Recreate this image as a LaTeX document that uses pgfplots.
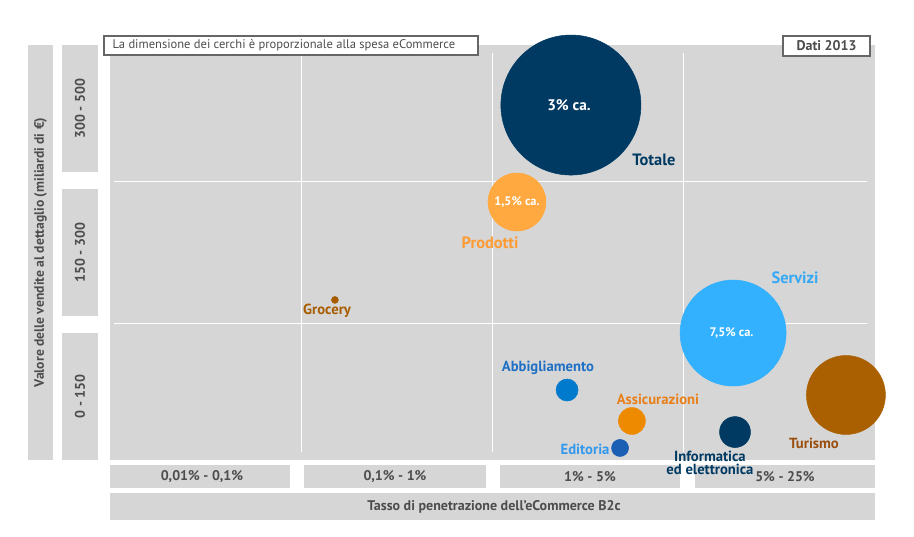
\documentclass[border=0pt]{standalone}
\usepackage{pgfplots}
\pgfplotsset{compat=1.18}
\usepackage{fontspec}
\setmainfont{PT Sans}
\definecolor{bg}{HTML}{D6D6D6}
\definecolor{txt}{HTML}{4D4D4D}
\definecolor{boxline}{HTML}{666666}
\definecolor{navy}{HTML}{003A63}
\definecolor{prodB}{HTML}{FFA940}
\definecolor{prodT}{HTML}{FF9B33}
\definecolor{groc}{HTML}{A85C00}
\definecolor{abbB}{HTML}{007ACC}
\definecolor{abbT}{HTML}{1F6FC5}
\definecolor{assB}{HTML}{EE8A00}
\definecolor{assT}{HTML}{E8801A}
\definecolor{ediB}{HTML}{1A5FB4}
\definecolor{ediT}{HTML}{3399EE}
\definecolor{serB}{HTML}{33B1FF}
\definecolor{serT}{HTML}{36A9F5}
\definecolor{turB}{HTML}{AA6000}
\definecolor{turT}{HTML}{9A4F10}
\newcommand{\fs}[1]{\fontsize{#1}{#1}\selectfont}
\begin{document}
\begin{tikzpicture}[x=0.75pt,y=0.75pt]
\path[use as bounding box] (0,0) rectangle (914,536);
% left title bar and category boxes
\fill[bg] (28,76) rectangle (53,491);
\node[rotate=90,text=txt,font=\fs{10.2}\bfseries] at (40.5,283.5) {Valore delle vendite al dettaglio (miliardi di €)};
\fill[bg] (62,364) rectangle (98,491);
\fill[bg] (62,220) rectangle (98,347);
\fill[bg] (62,76) rectangle (98,203);
\node[rotate=90,text=txt,font=\fs{10.5}\bfseries] at (80,427.5) {300 - 500};
\node[rotate=90,text=txt,font=\fs{10.5}\bfseries] at (80,283.5) {150 - 300};
\node[rotate=90,text=txt,font=\fs{10.5}\bfseries] at (80,139.5) {0 - 150};
% bottom category boxes
\fill[bg] (110,48) rectangle (290,71);
\fill[bg] (304,48) rectangle (486,71);
\fill[bg] (500,48) rectangle (680,71);
\fill[bg] (695,48) rectangle (875,71);
\node[text=txt,font=\fs{10.5}\bfseries] at (202,59.5) {0,01\% - 0,1\%};
\node[text=txt,font=\fs{10.5}\bfseries] at (395,59.5) {0,1\% - 1\%};
\node[text=txt,font=\fs{10.5}\bfseries] at (590,59.5) {1\% - 5\%};
\node[text=txt,font=\fs{10.5}\bfseries] at (785,59.5) {5\% - 25\%};
\fill[bg] (110,16) rectangle (875,43);
\node[text=txt,font=\fs{10.5}\bfseries] at (494,29.5) {Tasso di penetrazione dell'eCommerce B2c};
\begin{axis}[
  at={(82.5pt,57pt)}, anchor=south west,
  scale only axis, width=573.75pt, height=311.25pt,
  xmin=0, xmax=4, ymin=0, ymax=3,
  axis line style={draw=none},
  xtick=\empty, ytick=\empty,
  axis background/.style={fill=bg},
  clip=false,
]
% grid lines
\draw[white, line width=0.75pt] (axis cs:1,0.06) -- (axis cs:1,2.94);
\draw[white, line width=0.75pt] (axis cs:2,0.06) -- (axis cs:2,2.94);
\draw[white, line width=0.75pt] (axis cs:3,0.06) -- (axis cs:3,2.94);
\draw[white, line width=0.75pt] (axis cs:0.02,0.99) -- (axis cs:3.96,0.99);
\draw[white, line width=0.75pt] (axis cs:0.02,2.01) -- (axis cs:3.96,2.01);
% bubbles
\addplot[only marks, mark=*, mark size=52.5pt, draw=navy, fill=navy] coordinates {(2.410,2.566)};
\addplot[only marks, mark=*, mark size=21.75pt, draw=prodB, fill=prodB] coordinates {(2.128,1.865)};
\addplot[only marks, mark=*, mark size=2.6pt, draw=groc, fill=groc] coordinates {(1.176,1.157)};
\addplot[only marks, mark=*, mark size=8.25pt, draw=abbB, fill=abbB] coordinates {(2.390,0.506)};
\addplot[only marks, mark=*, mark size=10.1pt, draw=assB, fill=assB] coordinates {(2.729,0.282)};
\addplot[only marks, mark=*, mark size=6.4pt, draw=ediB, fill=ediB] coordinates {(2.667,0.087)};
\addplot[only marks, mark=*, mark size=39.75pt, draw=serB, fill=serB] coordinates {(3.258,0.918)};
\addplot[only marks, mark=*, mark size=11.6pt, draw=navy, fill=navy] coordinates {(3.268,0.202)};
\addplot[only marks, mark=*, mark size=29.6pt, draw=turB, fill=turB] coordinates {(3.848,0.470)};
\coordinate (totc) at (axis cs:2.400,2.566);
\coordinate (prodc) at (axis cs:2.128,1.865);
\coordinate (serc) at (axis cs:3.250,0.918);
% labels
\node[text=navy,font=\fs{12.3}\bfseries] at (axis cs:2.844,2.169) {Totale};
\node[text=prodT,font=\fs{12.3}\bfseries] at (axis cs:1.987,1.569) {Prodotti};
\node[text=groc,font=\fs{11}\bfseries] at (axis cs:1.135,1.077) {Grocery};
\node[text=abbT,font=\fs{11}\bfseries] at (axis cs:2.290,0.665) {Abbigliamento};
\node[text=assT,font=\fs{11}\bfseries] at (axis cs:2.865,0.441) {Assicurazioni};
\node[text=ediT,font=\fs{11}\bfseries] at (axis cs:2.484,0.080) {Editoria};
\node[text=serT,font=\fs{12.3}\bfseries] at (axis cs:3.582,1.316) {Servizi};
\node[text=navy,font=\fs{11}\bfseries,align=center,inner sep=0pt] at (axis cs:3.137,-0.02) {Informatica\\[-1.5pt]ed elettronica};
\node[text=turT,font=\fs{11}\bfseries] at (axis cs:3.681,0.123) {Turismo};
\end{axis}
% labels inside bubbles
\node[text=white,font=\fs{11.5}\bfseries] at (totc) {3\% ca.};
\node[text=white,font=\fs{9.3}\bfseries] at (prodc) {1,5\% ca.};
\node[text=white,font=\fs{9.3}\bfseries] at (serc) {7,5\% ca.};
% top note boxes
\draw[boxline, fill=white, line width=1.5pt] (104,481) rectangle (478,500);
\node[anchor=west,text=txt,font=\fs{9.4}] at (108,490.5) {La dimensione dei cerchi è proporzionale alla spesa eCommerce};
\draw[boxline, fill=white, line width=1.5pt] (783,480) rectangle (870,500);
\node[text=txt,font=\fs{10.5}\bfseries] at (826.5,490) {Dati 2013};
\end{tikzpicture}
\end{document}
